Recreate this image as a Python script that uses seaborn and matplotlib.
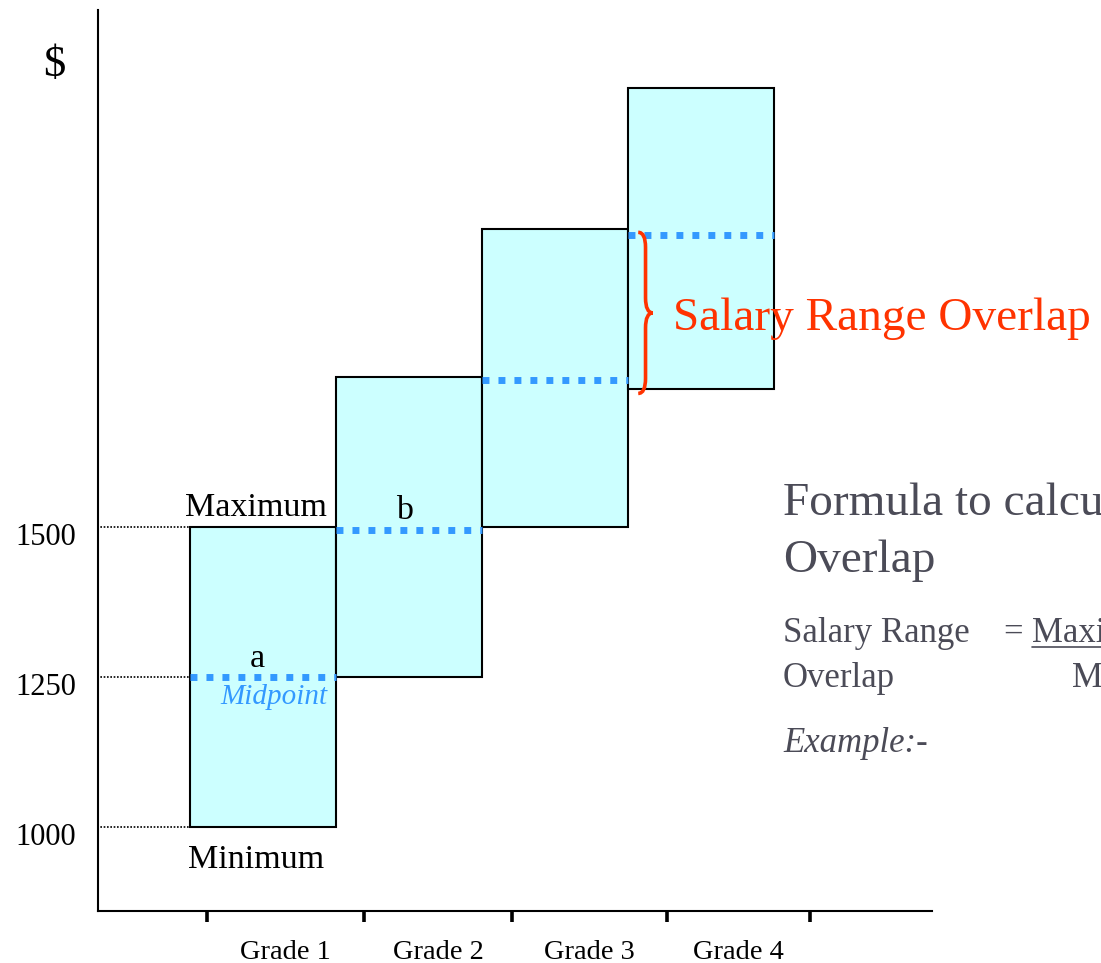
import numpy as np
import pandas as pd
import matplotlib
matplotlib.use("Agg")
import matplotlib.pyplot as plt
from matplotlib.path import Path
from matplotlib.patches import PathPatch
from matplotlib.lines import Line2D
from matplotlib.transforms import ScaledTranslation
import seaborn as sns

# Salary grades
grades = ["Grade 1", "Grade 2", "Grade 3", "Grade 4"]
minimums = [1000, 1250, 1500, 1730]
maximums = [1500, 1750, 1995, 2230]
midpoints = [1250, 1495, 1745, 1985]
ref_levels = [1000, 1250, 1500]
ref_labels = ["1000", "1250", "1500"]

df = pd.DataFrame({"grade": grades,
                   "low": minimums,
                   "high": maximums,
                   "mid": midpoints})
df["span"] = df["high"] - df["low"]

sns.set_style("white")
plt.rcParams["font.family"] = ["Liberation Serif", "DejaVu Serif"]
plt.rcParams["text.color"] = "black"
plt.rcParams["xtick.color"] = "black"
plt.rcParams["ytick.color"] = "black"

W, H = 1101, 963
fig = plt.figure(figsize=(W / 100, H / 100), dpi=100)
# axes placed to match the reference frame (pixels)
ax = fig.add_axes([98 / W, (H - 911) / H, (932 - 98) / W, (911 - 10) / H])

# floating boxes: height = range, bottom = minimum
sns.barplot(data=df, x="grade", y="span", bottom=df["low"].values,
            width=1.0, color="#ccffff", edgecolor="black", linewidth=1.5,
            errorbar=None, saturation=1, ax=ax, zorder=2)

pos = np.arange(len(grades))

# midpoint dotted lines
ax.hlines(df["mid"], pos - 0.5, pos + 0.5, colors="#3399ff", linewidth=5,
          linestyles=(0, (1, 1.3)), zorder=4)

# dotted guides from the axis to grade 1
ax.hlines(ref_levels, -1.14, -0.5, colors="black", linewidth=1.2,
          linestyles=(0, (1, 1)), zorder=1, clip_on=False)

ax.set_xlim(-1.13, 4.582)
ax.set_ylim(860.7, 2360)

# axis styling
sns.despine(ax=ax)
for s in ["left", "bottom"]:
    ax.spines[s].set_linewidth(1.5)
    ax.spines[s].set_color("black")

ax.set_yticks(ref_levels)
ax.set_yticklabels(ref_labels, fontsize=22)
ax.tick_params(axis="y", length=0, pad=16)
for lab in ax.get_yticklabels():
    lab.set_transform(lab.get_transform() + ScaledTranslation(0, -5 / 72, fig.dpi_scale_trans))

# tick marks sit between grades, labels centred between the marks
marks = np.array([-0.384, 0.692, 1.705, 2.767, 3.747])
ax.set_xticks(marks, minor=True)
ax.set_xticks((marks[:-1] + marks[1:]) / 2)
ax.set_xticklabels(grades, fontsize=20.5)
ax.tick_params(axis="x", which="major", length=0, pad=21, bottom=True)
ax.tick_params(axis="x", which="minor", length=8, width=2.6, color="black",
               direction="out", bottom=True)
ax.set_xlabel("")
ax.set_ylabel("")

# annotations on the boxes
ax.text(-0.045, 1518, "Maximum", fontsize=24.5, ha="center", va="baseline")
ax.text(-0.045, 932, "Minimum", fontsize=24.5, ha="center", va="baseline")
ax.text(-0.04, 1267, "a", fontsize=24.5, ha="center", va="baseline")
ax.text(0.97, 1513, "b", fontsize=24.5, ha="center", va="baseline")
ax.text(0.445, 1205, "Midpoint", fontsize=21, style="italic", color="#3399ff",
        ha="right", va="baseline")

# brace marking the overlap
top, bot = midpoints[3] + 5, minimums[3] - 8
mid = (top + bot) / 2
x0, x1, xt, d = 2.57, 2.62, 2.67, 25
verts = [(x0, top), (x1, top), (x1, top - d), (x1, mid + d),
         (x1, mid), (xt, mid), (x1, mid), (x1, mid - d),
         (x1, bot + d), (x1, bot), (x0, bot)]
codes = [Path.MOVETO, Path.CURVE3, Path.CURVE3, Path.LINETO,
         Path.CURVE3, Path.CURVE3, Path.CURVE3, Path.CURVE3,
         Path.LINETO, Path.CURVE3, Path.CURVE3]
ax.add_patch(PathPatch(Path(verts, codes), fill=False, edgecolor="#ff3300",
                       linewidth=2.6, zorder=5, clip_on=False))
ax.text(2.808, 1827, "Salary Range Overlap", fontsize=34, color="#ff3300",
        ha="left", va="baseline", zorder=6)

# text outside the plotting frame, placed in pixels
def ftext(px, py, s, **kw):
    fig.text(px / W, 1 - py / H, s, va="baseline", ha="left", **kw)

ftext(43, 76, "$", fontsize=32)

grey = "#4b4b57"
ftext(783, 515, "Formula to calculate Salary Range", fontsize=34, color=grey)
ftext(783, 572, "Overlap", fontsize=34, color=grey)
ftext(783, 642, "Salary Range", fontsize=25, color=grey)
ftext(1004, 642, "= ", fontsize=25, color=grey)
ftext(1032, 642, "Maximum of lower grade - Minimum of higher grade",
      fontsize=25, color=grey)
fig.add_artist(Line2D([1032 / W, 1.0], [1 - 647 / H, 1 - 647 / H],
                      color=grey, linewidth=1.2))
ftext(783, 687, "Overlap", fontsize=25, color=grey)
ftext(1072, 687, "Maximum of higher grade - Minimum of lower grade",
      fontsize=25, color=grey)
ftext(783, 752, "Example:-", fontsize=25, color=grey, style="italic")

fig.savefig("out.png", dpi=100)
